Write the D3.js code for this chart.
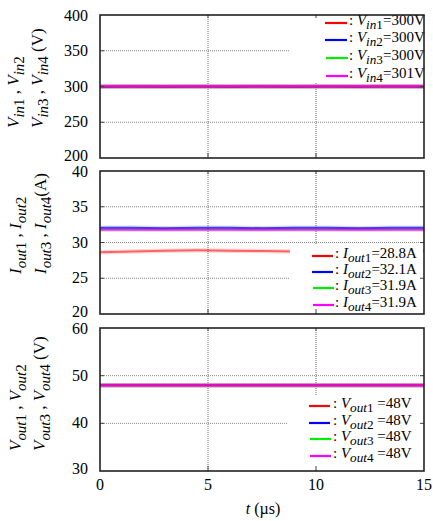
<!DOCTYPE html>
<html lang="en">
<head>
<meta charset="utf-8" />
<title>Vin / Iout / Vout waveforms</title>
<script src="https://d3js.org/d3.v7.min.js"></script>
<style>
    body { margin: 0; padding: 0; background: #fff; }
</style>
</head>
<body>
<svg id="chart"></svg>
<script>
    // time axis (us)
    var time = [0, 1.5, 3, 4.5, 6, 7.5, 9, 10.5, 12, 13.5, 15];
    var timeTicks = [0, 5, 10, 15];

    // panel 1: input voltages (V)
    var vin1 = [300.1, 300.0, 299.9, 300.1, 300.0, 299.9, 300.0, 300.1, 299.9, 300.0, 300.1];
    var vin2 = [299.8, 299.9, 299.8, 299.9, 299.8, 299.9, 299.8, 299.9, 299.8, 299.9, 299.8];
    var vin3 = [300.0, 300.0, 300.0, 300.0, 300.0, 300.0, 300.0, 300.0, 300.0, 300.0, 300.0];
    var vin4 = [300.6, 300.5, 300.6, 300.5, 300.6, 300.5, 300.6, 300.5, 300.6, 300.5, 300.6];
    var vinTicks = [200, 250, 300, 350, 400];
    var vinLegend = ["300V", "300V", "300V", "301V"];

    // panel 2: output currents (A)
    var iout1 = [28.65, 28.75, 28.85, 28.9, 28.85, 28.8, 28.75, 28.75, 28.8, 28.8, 28.8];
    var iout2 = [32.05, 32.05, 32.0, 32.05, 32.05, 32.0, 32.05, 32.05, 32.0, 32.05, 32.05];
    var iout3 = [31.85, 31.85, 31.85, 31.85, 31.85, 31.85, 31.85, 31.85, 31.85, 31.85, 31.85];
    var iout4 = [31.8, 31.8, 31.8, 31.8, 31.8, 31.8, 31.8, 31.8, 31.8, 31.8, 31.8];
    var ioutTicks = [20, 25, 30, 35, 40];
    var ioutLegend = ["28.8A", "32.1A", "31.9A", "31.9A"];

    // panel 3: output voltages (V)
    var vout1 = [48.0, 48.0, 48.0, 48.0, 48.0, 48.0, 48.0, 48.0, 48.0, 48.0, 48.0];
    var vout2 = [48.0, 48.0, 48.0, 48.0, 48.0, 48.0, 48.0, 48.0, 48.0, 48.0, 48.0];
    var vout3 = [48.0, 48.0, 48.0, 48.0, 48.0, 48.0, 48.0, 48.0, 48.0, 48.0, 48.0];
    var vout4 = [48.0, 48.0, 48.0, 48.0, 48.0, 48.0, 48.0, 48.0, 48.0, 48.0, 48.0];
    var voutTicks = [30, 40, 50, 60];
    var voutLegend = ["48V", "48V", "48V", "48V"];

    var colors = ["#ff0000", "#0000ff", "#00ee00", "#ff00ff"];
    var drawOrder = [2, 1, 0, 3];

    var w = 433, h = 521;
    var left = 100, right = 424;
    var serif = "'Liberation Serif', 'Times New Roman', Times, serif";

    var svg = d3.select("#chart").attr("width", w).attr("height", h)
        .attr("font-family", serif);

    var xScale = d3.scaleLinear().domain([0, 15]).range([left, right]);

    // adds text made of parts: [text, italic, subscript]
    function rich(sel, parts, size, drop) {
        var shift = 0;
        parts.forEach(function(p) {
            var target = p[2] ? drop : 0;
            sel.append("tspan")
                .attr("dy", target - shift)
                .attr("font-style", p[1] ? "italic" : "normal")
                .attr("font-size", p[2] ? size * 0.88 : size)
                .text(p[0]);
            shift = target;
        });
    }

    function sym(letter, sub, num) {
        return [[letter, true, false], [sub, true, true], [num, false, true]];
    }

    var panels = [
        { top: 15, bottom: 158, ticks: vinTicks, series: [vin1, vin2, vin3, vin4],
          letter: "V", sub: "in", unit: "(V)", unitGap: " ", values: vinLegend, eqGap: "",
          labelY: 128, labelX: [19, 43],
          legend: { x0: 290, y0: 16, y1: 82, lx: 325, lw: 22, tx: 349, rows: [23, 40, 58, 76] } },
        { top: 171, bottom: 314, ticks: ioutTicks, series: [iout1, iout2, iout3, iout4],
          letter: "I", sub: "out", unit: "(A)", unitGap: "", values: ioutLegend, eqGap: "",
          labelY: 274, labelX: [21, 46],
          legend: { x0: 290, y0: 245, y1: 313, lx: 312, lw: 21, tx: 335, rows: [256, 272, 288, 305] } },
        { top: 328, bottom: 471, ticks: voutTicks, series: [vout1, vout2, vout3, vout4],
          letter: "V", sub: "out", unit: "(V)", unitGap: " ", values: voutLegend, eqGap: " ",
          labelY: 451, labelX: [21, 45],
          legend: { x0: 287, y0: 395, y1: 470, lx: 309, lw: 21, tx: 333, rows: [406, 423, 439, 456] } }
    ];

    panels.forEach(function(p, pi) {
        var ticks = p.ticks;
        var yScale = d3.scaleLinear()
            .domain([ticks[0], ticks[ticks.length - 1]])
            .range([p.bottom, p.top]);
        var g = svg.append("g");

        // grid lines
        g.selectAll(".hgrid")
            .data(ticks.slice(1, -1))
            .enter().append("line")
            .attr("x1", left).attr("x2", right)
            .attr("y1", function(d) { return yScale(d); })
            .attr("y2", function(d) { return yScale(d); })
            .attr("stroke", "#777").attr("stroke-width", 0.9)
            .attr("stroke-dasharray", "1,1");
        g.selectAll(".vgrid")
            .data(timeTicks.slice(1, -1))
            .enter().append("line")
            .attr("x1", function(d) { return xScale(d); })
            .attr("x2", function(d) { return xScale(d); })
            .attr("y1", p.top).attr("y2", p.bottom)
            .attr("stroke", "#555").attr("stroke-width", 0.9)
            .attr("stroke-dasharray", "1,1");

        // data lines
        var line = d3.line()
            .x(function(d, i) { return xScale(time[i]); })
            .y(function(d) { return yScale(d); });
        drawOrder.forEach(function(k) {
            g.append("path").datum(p.series[k])
                .attr("d", line).attr("fill", "none")
                .attr("stroke", colors[k]).attr("stroke-width", 4.5)
                .attr("stroke-opacity", 0.15);
            g.append("path").datum(p.series[k])
                .attr("d", line).attr("fill", "none")
                .attr("stroke", colors[k]).attr("stroke-width", 2)
                .attr("stroke-opacity", pi == 1 && k == 0 ? 0.55 : 0.7);
        });

        // legend box
        var L = p.legend;
        g.append("rect")
            .attr("x", L.x0).attr("y", L.y0)
            .attr("width", right - 1 - L.x0).attr("height", L.y1 - L.y0)
            .attr("fill", "#fff");
        L.rows.forEach(function(ry, k) {
            g.append("line")
                .attr("x1", L.lx + (k > 1 ? 1 : 0)).attr("x2", L.lx + L.lw + (k > 1 ? 1 : 0))
                .attr("y1", ry).attr("y2", ry)
                .attr("stroke", colors[k]).attr("stroke-width", 2.2);
            var t = g.append("text").attr("x", L.tx).attr("y", ry + 2).attr("font-size", 15);
            rich(t, [[": ", false, false]].concat(sym(p.letter, p.sub, String(k + 1)))
                .concat([[p.eqGap + "=" + p.values[k], false, false]]), 15, 4);
        });

        // inward ticks
        ticks.slice(1, -1).forEach(function(d) {
            g.append("line").attr("x1", left).attr("x2", left + 4)
                .attr("y1", yScale(d)).attr("y2", yScale(d)).attr("stroke", "#444");
            g.append("line").attr("x1", right - 4).attr("x2", right)
                .attr("y1", yScale(d)).attr("y2", yScale(d)).attr("stroke", "#444");
        });
        timeTicks.slice(1, -1).forEach(function(d) {
            g.append("line").attr("x1", xScale(d)).attr("x2", xScale(d))
                .attr("y1", p.top).attr("y2", p.top + 3).attr("stroke", "#444");
            g.append("line").attr("x1", xScale(d)).attr("x2", xScale(d))
                .attr("y1", p.bottom - 5).attr("y2", p.bottom).attr("stroke", "#444");
        });

        // frame
        g.append("rect")
            .attr("x", left).attr("y", p.top)
            .attr("width", right - left).attr("height", p.bottom - p.top)
            .attr("fill", "none").attr("stroke", "#222").attr("stroke-width", 1.6);

        // y tick labels (end labels nudged so neighbouring panels don't collide)
        g.selectAll(".ylab")
            .data(ticks)
            .enter().append("text")
            .attr("x", 88)
            .attr("y", function(d, i) {
                var nudge = i == 0 ? -2 : (i == ticks.length - 1 ? 1 : 0);
                return yScale(d) + 5 + nudge;
            })
            .attr("text-anchor", "end")
            .attr("font-size", 16)
            .text(function(d) { return d; });

        // y axis title, two rotated lines
        var l1 = g.append("text").attr("font-size", 17)
            .attr("transform", "translate(" + p.labelX[0] + "," + p.labelY + ") rotate(-90)");
        rich(l1, sym(p.letter, p.sub, "1").concat([[" , ", false, false]])
            .concat(sym(p.letter, p.sub, "2")), 17, 5);
        var l2 = g.append("text").attr("font-size", 17)
            .attr("transform", "translate(" + p.labelX[1] + "," + p.labelY + ") rotate(-90)");
        rich(l2, sym(p.letter, p.sub, "3").concat([[" , ", false, false]])
            .concat(sym(p.letter, p.sub, "4")).concat([[p.unitGap + p.unit, false, false]]), 17, 5);
    });

    // x tick labels and title
    svg.selectAll(".xlab")
        .data(timeTicks)
        .enter().append("text")
        .attr("x", function(d) { return xScale(d); })
        .attr("y", 490)
        .attr("text-anchor", "middle")
        .attr("font-size", 16)
        .text(function(d) { return d; });

    var xt = svg.append("text").attr("x", 263).attr("y", 514)
        .attr("text-anchor", "middle").attr("font-size", 16);
    xt.append("tspan").attr("font-style", "italic").text("t");
    xt.append("tspan").text(" (\u00b5s)");
</script>
</body>
</html>
